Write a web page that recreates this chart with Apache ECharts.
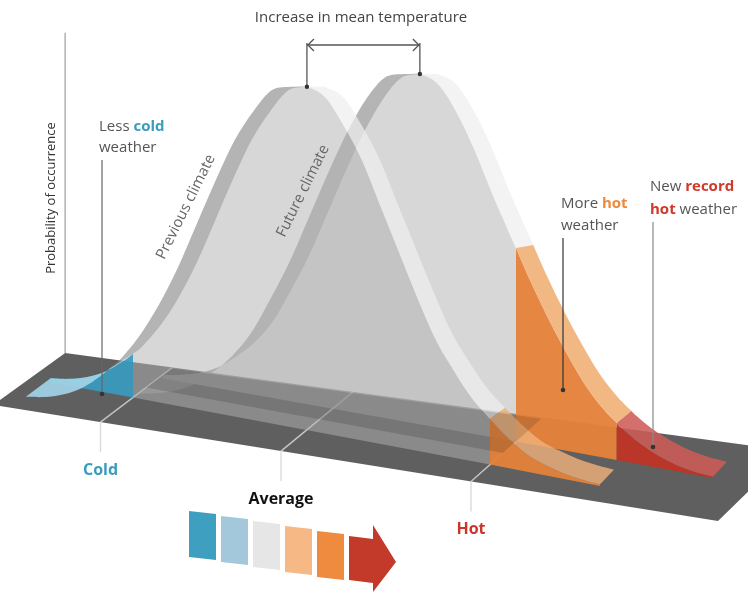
<!DOCTYPE html>
<html>
<head>
<meta charset="utf-8">
<title>Increase in mean temperature</title>
<script src="https://cdn.jsdelivr.net/npm/echarts@6/dist/echarts.min.js"></script>
<style>
html, body { margin: 0; padding: 0; background: #fff; }
#chart { width: 748px; height: 593px; }
</style>
</head>
<body>
<div id="chart"></div>
<script>
// temperature in standard deviations of the previous climate, height = relative probability
var prevTemp = [-2.8, -2.6, -2.4, -2.2, -2.0, -1.8, -1.6, -1.4, -1.2, -1.0, -0.8, -0.6, -0.4, -0.2, 0,
                0.2, 0.4, 0.6, 0.8, 1.0, 1.2, 1.4, 1.6, 1.8, 2.0, 2.2, 2.4, 2.6, 2.8, 3.0, 3.2];
var prevProb = [0.012, 0.02, 0.035, 0.06, 0.1, 0.15, 0.22, 0.31, 0.42, 0.55, 0.68, 0.8, 0.89, 0.96, 0.98,
                0.96, 0.89, 0.8, 0.68, 0.56, 0.44, 0.33, 0.25, 0.18, 0.13, 0.085, 0.05, 0.03, 0.016, 0.008, 0.004];
var futTemp = [-1.85, -1.65, -1.45, -1.25, -1.05, -0.85, -0.65, -0.45, -0.25, -0.05, 0.15, 0.35, 0.55, 0.75, 0.95,
               1.15, 1.35, 1.55, 1.75, 1.95, 2.15, 2.35, 2.55, 2.75, 2.95, 3.15, 3.35, 3.55, 3.75, 3.95, 4.15];
var futProb = [0.01, 0.02, 0.035, 0.06, 0.1, 0.15, 0.22, 0.32, 0.43, 0.56, 0.69, 0.81, 0.91, 0.98, 1.0,
               0.98, 0.91, 0.81, 0.69, 0.58, 0.47, 0.37, 0.28, 0.2, 0.14, 0.095, 0.06, 0.035, 0.018, 0.008, 0.004];

// cold / hot / record-hot limits on the temperature axis
var limitTemp = [-1.9, 2.0, 3.1];
var tickTemp = [-1.9, 0, 2.0];
var tickLabel = ['Cold', 'Average', 'Hot'];
var tickColor = ['#3a9cbd', '#111111', '#c9372c'];
var floorTemp = [-3.03, 4.6];
var scaleColors = ['#3f9fc0', '#a3c8dc', '#e6e6e6', '#f6b985', '#ee8b3f', '#c3392a'];

var FONT = '"Open Sans", "Noto Sans", sans-serif';

// floor is drawn in a tilted perspective: d = 0 back edge, d = 1 front edge
function project(api, t, h, d) {
    var p = api.coord([t, h]);
    var left = api.coord([floorTemp[0], 0]);
    return [p[0] - 72 * d, p[1] + (0.135 + 0.025 * d) * (p[0] - left[0]) + 52 * d];
}
// where each curve stands on the floor (it turns slightly towards the viewer)
function prevDepth(t) { return 0.64 + 0.048 * t; }
function futDepth(t) { return 0.375 + 0.048 * (t - limitTemp[1]); }

function probAt(temps, probs, t) {
    for (var i = 0; i < temps.length - 1; i++) {
        if (t >= temps[i] && t <= temps[i + 1]) {
            var f = (t - temps[i]) / (temps[i + 1] - temps[i]);
            return probs[i] + f * (probs[i + 1] - probs[i]);
        }
    }
    return 0;
}

function sampleCurve(temps, probs, a, b) {
    var lo = Math.max(a, temps[0]), hi = Math.min(b, temps[temps.length - 1]);
    var pts = [];
    if (lo >= hi) return pts;
    pts.push([lo, probAt(temps, probs, lo)]);
    for (var i = 0; i < temps.length; i++) {
        if (temps[i] > lo + 0.03 && temps[i] < hi - 0.03) pts.push([temps[i], probs[i]]);
    }
    pts.push([hi, probAt(temps, probs, hi)]);
    return pts;
}

function peakOf(temps, probs) {
    var m = Math.max.apply(null, probs);
    return [temps[probs.indexOf(m)], m];
}

// smooth path through pixel points (catmull-rom as cubic beziers)
function smoothPath(pts, cmd) {
    var s = cmd + pts[0][0].toFixed(2) + ' ' + pts[0][1].toFixed(2);
    for (var i = 0; i < pts.length - 1; i++) {
        var p0 = pts[Math.max(i - 1, 0)], p1 = pts[i], p2 = pts[i + 1], p3 = pts[Math.min(i + 2, pts.length - 1)];
        s += ' C' + (p1[0] + (p2[0] - p0[0]) / 6).toFixed(2) + ' ' + (p1[1] + (p2[1] - p0[1]) / 6).toFixed(2) +
             ' ' + (p2[0] - (p3[0] - p1[0]) / 6).toFixed(2) + ' ' + (p2[1] - (p3[1] - p1[1]) / 6).toFixed(2) +
             ' ' + p2[0].toFixed(2) + ' ' + p2[1].toFixed(2);
    }
    return s;
}

function curveSeries(temps, probs, depthAt, faces, bands) {
    var pk = peakOf(temps, probs);
    var mean = pk[0], peak = pk[1];
    return {
        type: 'custom',
        silent: true,
        data: temps.map(function (t, i) { return [t, probs[i]]; }),
        renderItem: function (params, api) {
            if (params.dataIndex !== 0) return;
            var kids = [];
            function edge(p) { return project(api, p[0], p[1], depthAt(p[0])); }
            // the thick top of the curve, seen from above
            function rim(p, left) {
                var q = project(api, p[0], p[1], depthAt(p[0]));
                var low = 1 - p[1] / peak;
                if (left) {
                    q[0] += -17 - 8 * low * low;
                    q[1] += 19 * low * low;
                } else {
                    q[0] += 18 - 4 * low * low;
                    q[1] -= 15 * low * low;
                }
                return q;
            }
            faces.forEach(function (f) {
                var pts = sampleCurve(temps, probs, f[0], f[1]);
                if (!pts.length) return;
                var tb = pts[pts.length - 1][0], ta = pts[0][0];
                var b1 = project(api, tb, 0, depthAt(tb)), b0 = project(api, ta, 0, depthAt(ta));
                var d = smoothPath(pts.map(edge), 'M') + ' L' + b1[0] + ' ' + b1[1] + ' L' + b0[0] + ' ' + b0[1] + ' Z';
                kids.push({ type: 'path', shape: { pathData: d }, style: { fill: f[2] } });
            });
            bands.forEach(function (b) {
                var a = b[0] === 'mean' ? mean : b[0];
                var z = b[1] === 'mean' ? mean : b[1];
                var left = b[1] === 'mean' || z <= mean;
                var pts = sampleCurve(temps, probs, a, z);
                if (!pts.length) return;
                var inner = pts.map(edge);
                var outer = pts.map(function (p) { return rim(p, left); }).reverse();
                var d = smoothPath(inner, 'M') + ' ' + smoothPath(outer, 'L') + ' Z';
                kids.push({ type: 'path', shape: { pathData: d }, style: { fill: b[2] } });
            });
            return { type: 'group', children: kids };
        }
    };
}

var GREY_FACE = 'rgba(178,178,178,0.52)';
var DARK_RIM = 'rgba(140,140,140,0.65)';
var LIGHT_RIM = 'rgba(238,238,238,0.72)';

var floorSeries = {
    type: 'custom',
    silent: true,
    data: [[floorTemp[0], 0]],
    renderItem: function (params, api) {
        var kids = [];
        kids.push({
            type: 'polygon',
            shape: { points: [
                project(api, floorTemp[0], 0, 0), project(api, floorTemp[1], 0, 0),
                project(api, floorTemp[1], 0, 1), project(api, floorTemp[0], 0, 1)
            ] },
            style: { fill: '#5f5f5f' }
        });
        // probability axis standing on the back corner
        var b = project(api, floorTemp[0], 0, 0), t = project(api, floorTemp[0], 0.915, 0);
        kids.push({ type: 'line', shape: { x1: b[0], y1: b[1], x2: t[0], y2: t[1] },
            style: { stroke: '#b0b0b0', lineWidth: 1.5 } });
        tickTemp.forEach(function (tt, i) {
            var p0 = project(api, tt, 0, 0), p1 = project(api, tt, 0, 1);
            kids.push({ type: 'line', shape: { x1: p0[0], y1: p0[1], x2: p1[0], y2: p1[1] },
                style: { stroke: '#c4c4c4', lineWidth: 1.5 } });
            kids.push({ type: 'line', shape: { x1: p1[0], y1: p1[1] + 1, x2: p1[0], y2: p1[1] + 30 },
                style: { stroke: '#dcdcdc', lineWidth: 1.5 } });
            kids.push({ type: 'text', x: p1[0], y: p1[1] + 48, z2: 10,
                style: { text: tickLabel[i], fill: tickColor[i], font: 'bold 16px ' + FONT,
                    align: 'center', verticalAlign: 'middle' } });
        });
        return { type: 'group', children: kids };
    }
};

// shading stripes on the part of the floor seen through the curves
var stripeSeries = {
    type: 'custom',
    silent: true,
    data: [[0, 0]],
    renderItem: function (params, api) {
        var a = limitTemp[0], b = limitTemp[1];
        var back = [
            project(api, a, 0, 0.02), project(api, b, 0, 0.02),
            project(api, b, 0, futDepth(b)), project(api, a, 0, futDepth(a))
        ];
        var mid = [
            project(api, a, 0, futDepth(a)), project(api, b, 0, futDepth(b)),
            project(api, b, 0, futDepth(b) + 0.18), project(api, a, 0, futDepth(a) + 0.18)
        ];
        return { type: 'group', children: [
            { type: 'polygon', shape: { points: back }, style: { fill: 'rgba(0,0,0,0.13)' } },
            { type: 'polygon', shape: { points: mid }, style: { fill: 'rgba(0,0,0,0.14)' } }
        ] };
    }
};

var futSeries = curveSeries(futTemp, futProb, futDepth,
    [[-99, limitTemp[1], GREY_FACE], [limitTemp[1], limitTemp[2], 'rgba(228,130,58,0.96)'],
     [limitTemp[2], 99, 'rgba(189,52,39,0.96)']],
    [[-99, 'mean', DARK_RIM], ['mean', limitTemp[1], LIGHT_RIM],
     [limitTemp[1], limitTemp[2], 'rgba(240,178,122,0.92)'], [limitTemp[2], 99, 'rgba(206,92,86,0.88)']]);

var prevSeries = curveSeries(prevTemp, prevProb, prevDepth,
    [[-99, limitTemp[0], 'rgba(58,154,189,0.94)'], [limitTemp[0], limitTemp[1], GREY_FACE],
     [limitTemp[1], 99, 'rgba(228,130,58,0.95)']],
    [[-99, limitTemp[0], 'rgba(162,210,230,0.92)'], [limitTemp[0], 'mean', DARK_RIM],
     ['mean', limitTemp[1], LIGHT_RIM], [limitTemp[1], 99, 'rgba(240,178,122,0.8)']]);

// arrow between the two peaks
var shiftSeries = {
    type: 'custom',
    silent: true,
    data: [[0, 0]],
    renderItem: function (params, api) {
        var a = peakOf(prevTemp, prevProb), b = peakOf(futTemp, futProb);
        var pa = project(api, a[0], a[1], prevDepth(a[0])), pb = project(api, b[0], b[1], futDepth(b[0]));
        var y = 45, c = '#555';
        var st = { stroke: c, lineWidth: 1.3 };
        return { type: 'group', children: [
            { type: 'line', shape: { x1: pa[0], y1: pa[1], x2: pa[0], y2: y - 2 }, style: st },
            { type: 'line', shape: { x1: pb[0], y1: pb[1], x2: pb[0], y2: y - 2 }, style: st },
            { type: 'line', shape: { x1: pa[0], y1: y, x2: pb[0], y2: y }, style: st },
            { type: 'polyline', shape: { points: [[pa[0] + 7, y - 6], [pa[0] + 1, y], [pa[0] + 7, y + 6]] }, style: { stroke: c, lineWidth: 1.3, fill: null } },
            { type: 'polyline', shape: { points: [[pb[0] - 7, y - 6], [pb[0] - 1, y], [pb[0] - 7, y + 6]] }, style: { stroke: c, lineWidth: 1.3, fill: null } },
            { type: 'circle', shape: { cx: pa[0], cy: pa[1], r: 2.2 }, style: { fill: '#333' } },
            { type: 'circle', shape: { cx: pb[0], cy: pb[1], r: 2.2 }, style: { fill: '#333' } }
        ] };
    }
};

function label(x, y, text, rich) {
    return { type: 'text', x: x, y: y, z: 100,
        style: { text: text, rich: rich, verticalAlign: 'middle', font: '15px ' + FONT, fill: '#555' } };
}
var rich = {
    n: { fill: '#555', fontSize: 15, fontFamily: FONT },
    c: { fill: '#3a9cbd', fontSize: 15, fontFamily: FONT, fontWeight: 'bold' },
    o: { fill: '#ee8a3c', fontSize: 15, fontFamily: FONT, fontWeight: 'bold' },
    r: { fill: '#d0392a', fontSize: 15, fontFamily: FONT, fontWeight: 'bold' }
};
function pointer(x, y1, y2, color) {
    return [
        { type: 'line', z: 100, shape: { x1: x, y1: y1, x2: x, y2: y2 }, style: { stroke: color, lineWidth: 1.2 } },
        { type: 'circle', z: 100, shape: { cx: x, cy: y2, r: 2.3 }, style: { fill: '#333' } }
    ];
}

var graphics = [
    { type: 'text', x: 361, y: 18, z: 100,
      style: { text: 'Increase in mean temperature', font: '15px ' + FONT, fill: '#444', align: 'center', verticalAlign: 'middle' } },
    { type: 'text', x: 51, y: 198, z: 100, rotation: Math.PI / 2,
      style: { text: 'Probability of occurrence', font: '13px ' + FONT, fill: '#333', align: 'center', verticalAlign: 'middle' } },
    label(99, 127, '{n|Less }{c|cold}', rich),
    label(99, 148, '{n|weather}', rich),
    label(561, 204, '{n|More }{o|hot}', rich),
    label(561, 226, '{n|weather}', rich),
    label(650, 187, '{n|New }{r|record}', rich),
    label(650, 210, '{r|hot}{n| weather}', rich),
    { type: 'text', x: 186, y: 207, z: 100, rotation: 1.11,
      style: { text: 'Previous climate', font: '15px ' + FONT, fill: '#666', align: 'center', verticalAlign: 'middle' } },
    { type: 'text', x: 303, y: 191, z: 100, rotation: 1.11,
      style: { text: 'Future climate', font: '15px ' + FONT, fill: '#666', align: 'center', verticalAlign: 'middle' } }
]
.concat(pointer(102, 160, 394, '#666'))
.concat(pointer(563, 238, 390, '#333'))
.concat(pointer(653, 222, 447, '#888'));

// colour scale arrow under the floor
scaleColors.forEach(function (col, i) {
    var x0 = 189 + 32 * i, top = 511 + 5 * i, pts;
    if (i < scaleColors.length - 1) {
        pts = [[x0, top], [x0 + 27, top + 3], [x0 + 27, top + 49], [x0, top + 46]];
    } else {
        pts = [[x0, top], [x0 + 24, top + 3], [x0 + 24, top - 11], [x0 + 47, top + 26],
               [x0 + 24, top + 56], [x0 + 24, top + 47], [x0, top + 44]];
    }
    graphics.push({ type: 'polygon', z: 100, shape: { points: pts }, style: { fill: col } });
});

var chart = echarts.init(document.getElementById('chart'));
chart.setOption({
    animation: false,
    grid: { left: 0, right: 0, top: 3, bottom: 240 },
    xAxis: { type: 'value', min: -353 / 95, max: 395 / 95, show: false },
    yAxis: { type: 'value', min: 0, max: 1, show: false },
    series: [floorSeries, futSeries, prevSeries, stripeSeries, shiftSeries],
    graphic: graphics
});
</script>
</body>
</html>
